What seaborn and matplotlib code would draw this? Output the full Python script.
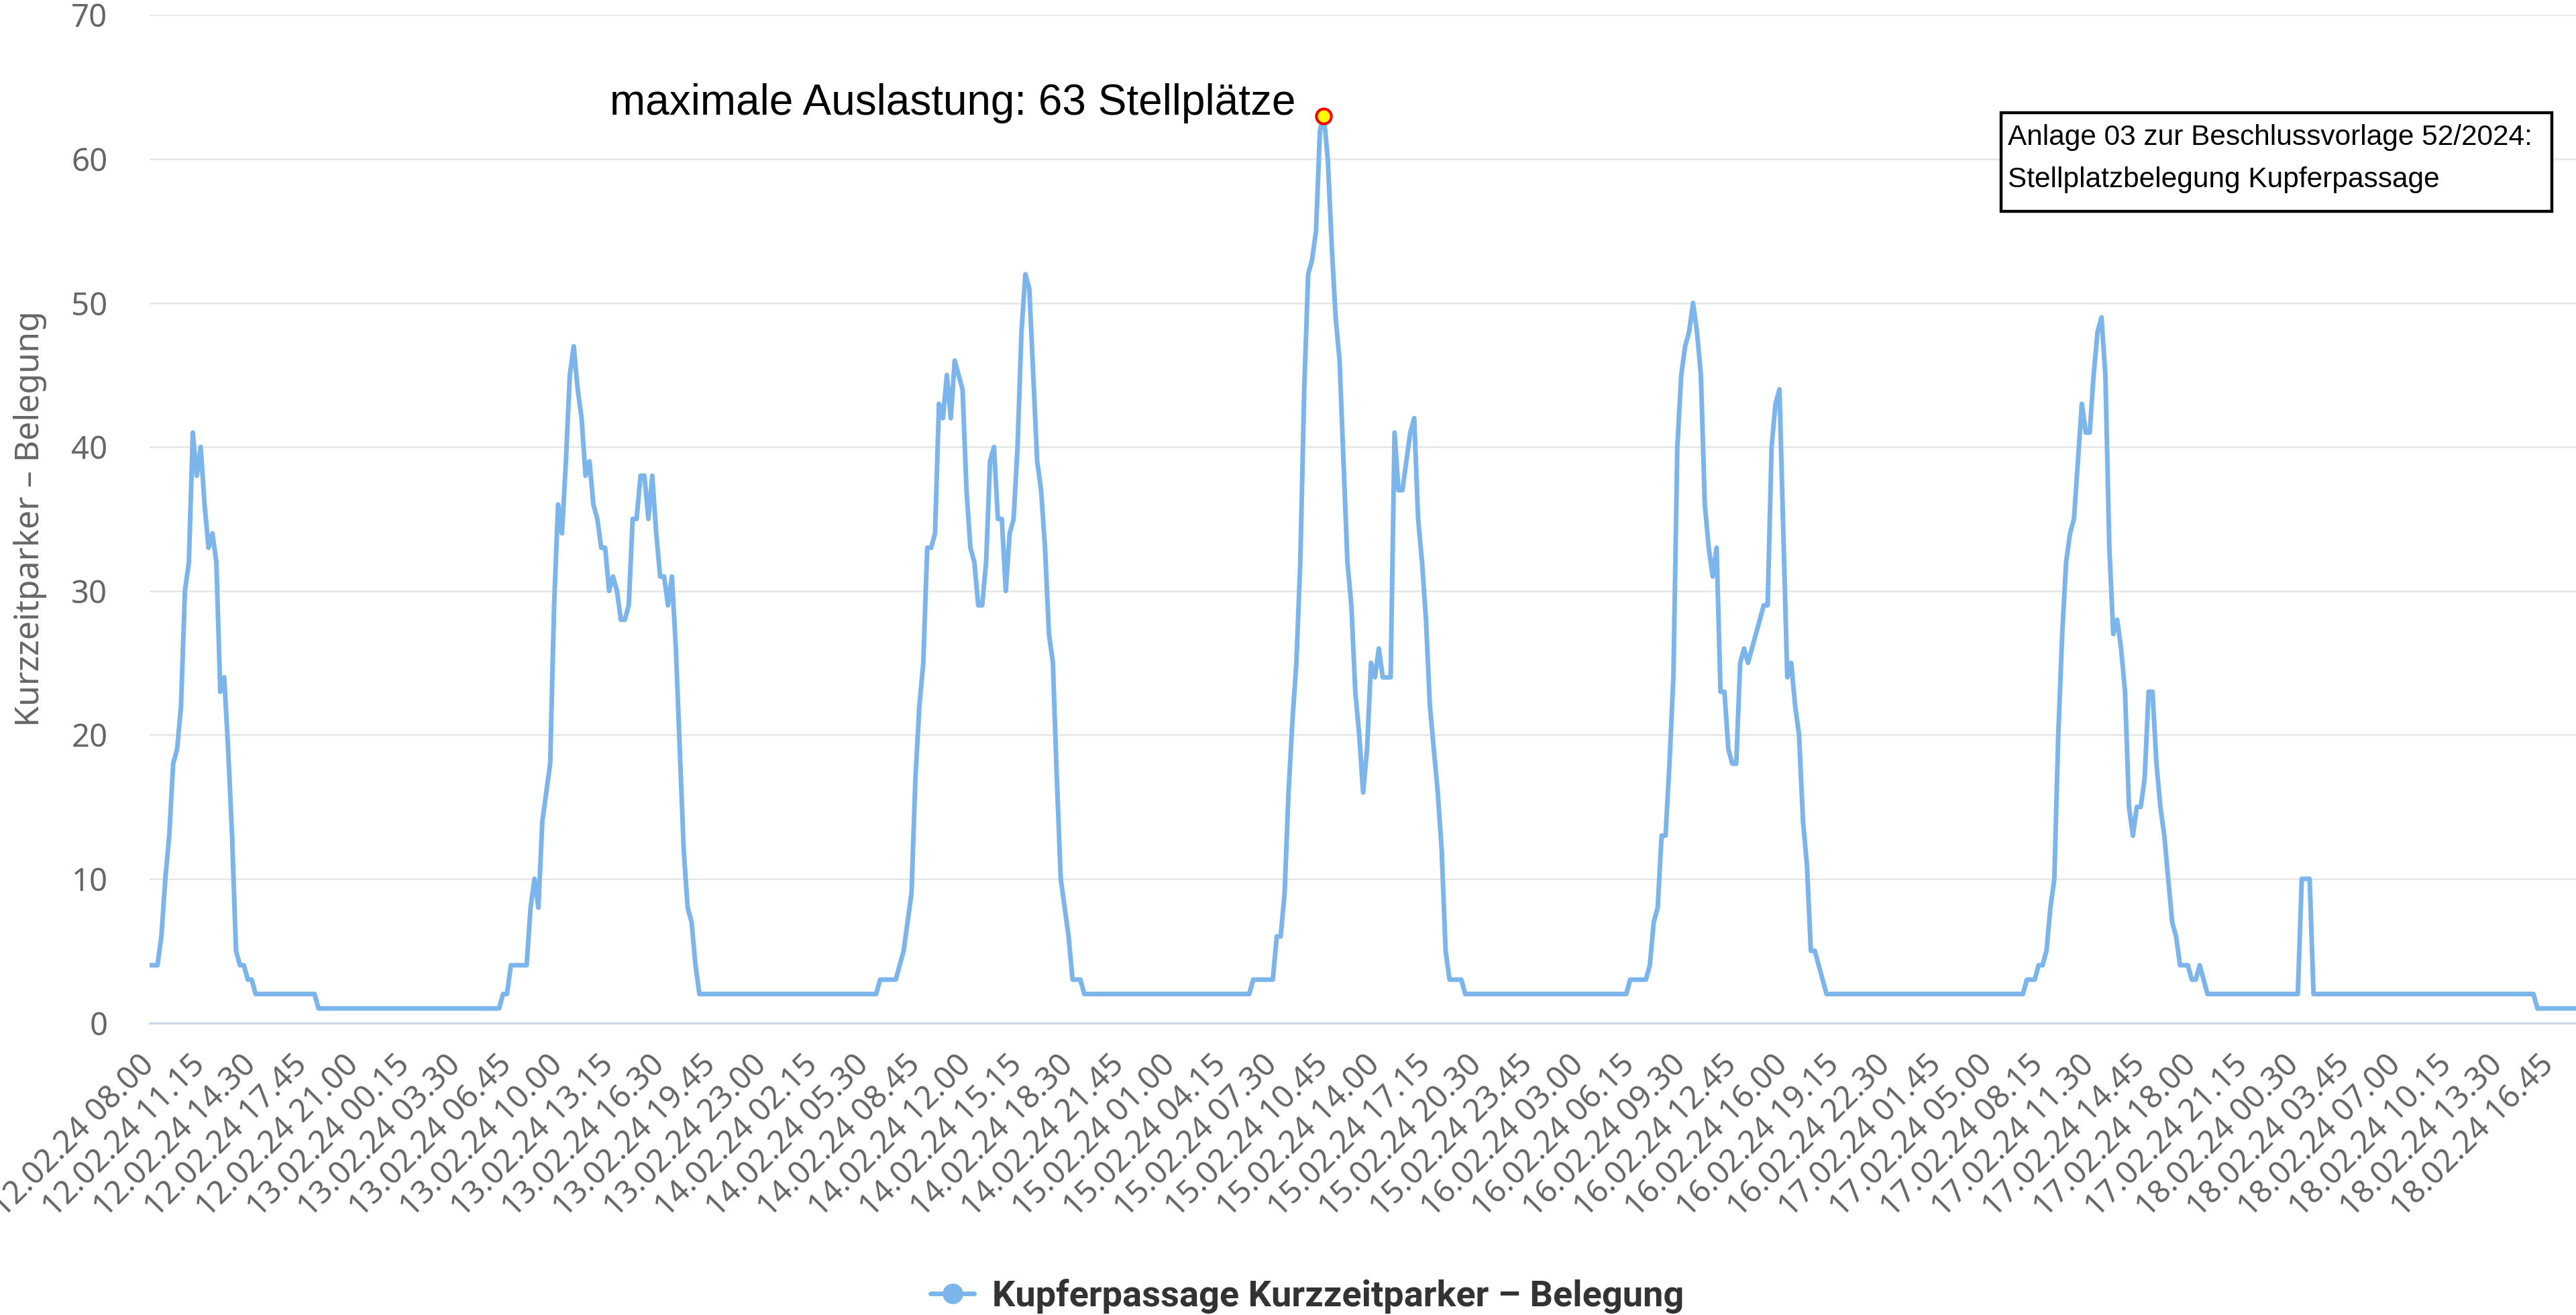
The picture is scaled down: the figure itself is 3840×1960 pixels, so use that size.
import numpy as np
import pandas as pd
import matplotlib
matplotlib.use("Agg")
import matplotlib.pyplot as plt
from matplotlib.lines import Line2D
from matplotlib.patches import Rectangle
import seaborn as sns

start = "2024-02-12 08:00"
belegung = [
    4, 4, 4, 6, 10, 13, 18, 19, 22, 30, 32, 41, 38, 40, 36, 33, 34, 32, 23, 24, 19, 13, 5, 4,
    4, 3, 3, 2, 2, 2, 2, 2, 2, 2, 2, 2, 2, 2, 2, 2, 2, 2, 2, 1, 1, 1, 1, 1,
    1, 1, 1, 1, 1, 1, 1, 1, 1, 1, 1, 1, 1, 1, 1, 1, 1, 1, 1, 1, 1, 1, 1, 1,
    1, 1, 1, 1, 1, 1, 1, 1, 1, 1, 1, 1, 1, 1, 1, 1, 1, 1, 2, 2, 4, 4, 4, 4,
    4, 8, 10, 8, 14, 16, 18, 29, 36, 34, 39, 45, 47, 44, 42, 38, 39, 36, 35, 33, 33, 30, 31, 30,
    28, 28, 29, 35, 35, 38, 38, 35, 38, 34, 31, 31, 29, 31, 26, 19, 12, 8, 7, 4, 2, 2, 2, 2,
    2, 2, 2, 2, 2, 2, 2, 2, 2, 2, 2, 2, 2, 2, 2, 2, 2, 2, 2, 2, 2, 2, 2, 2,
    2, 2, 2, 2, 2, 2, 2, 2, 2, 2, 2, 2, 2, 2, 2, 2, 2, 2, 3, 3, 3, 3, 3, 4,
    5, 7, 9, 17, 22, 25, 33, 33, 34, 43, 42, 45, 42, 46, 45, 44, 37, 33, 32, 29, 29, 32, 39, 40,
    35, 35, 30, 34, 35, 40, 48, 52, 51, 45, 39, 37, 33, 27, 25, 17, 10, 8, 6, 3, 3, 3, 2, 2,
    2, 2, 2, 2, 2, 2, 2, 2, 2, 2, 2, 2, 2, 2, 2, 2, 2, 2, 2, 2, 2, 2, 2, 2,
    2, 2, 2, 2, 2, 2, 2, 2, 2, 2, 2, 2, 2, 2, 2, 2, 2, 3, 3, 3, 3, 3, 3, 6,
    6, 9, 16, 21, 25, 32, 44, 52, 53, 55, 62, 63, 60, 54, 49, 46, 39, 32, 29, 23, 20, 16, 19, 25,
    24, 26, 24, 24, 24, 41, 37, 37, 39, 41, 42, 35, 32, 28, 22, 19, 16, 12, 5, 3, 3, 3, 3, 2,
    2, 2, 2, 2, 2, 2, 2, 2, 2, 2, 2, 2, 2, 2, 2, 2, 2, 2, 2, 2, 2, 2, 2, 2,
    2, 2, 2, 2, 2, 2, 2, 2, 2, 2, 2, 2, 2, 2, 2, 2, 2, 3, 3, 3, 3, 3, 4, 7,
    8, 13, 13, 18, 24, 40, 45, 47, 48, 50, 48, 45, 36, 33, 31, 33, 23, 23, 19, 18, 18, 25, 26, 25,
    26, 27, 28, 29, 29, 40, 43, 44, 34, 24, 25, 22, 20, 14, 11, 5, 5, 4, 3, 2, 2, 2, 2, 2,
    2, 2, 2, 2, 2, 2, 2, 2, 2, 2, 2, 2, 2, 2, 2, 2, 2, 2, 2, 2, 2, 2, 2, 2,
    2, 2, 2, 2, 2, 2, 2, 2, 2, 2, 2, 2, 2, 2, 2, 2, 2, 2, 2, 2, 2, 2, 3, 3,
    3, 4, 4, 5, 8, 10, 20, 27, 32, 34, 35, 39, 43, 41, 41, 45, 48, 49, 45, 33, 27, 28, 26, 23,
    15, 13, 15, 15, 17, 23, 23, 18, 15, 13, 10, 7, 6, 4, 4, 4, 3, 3, 4, 3, 2, 2, 2, 2,
    2, 2, 2, 2, 2, 2, 2, 2, 2, 2, 2, 2, 2, 2, 2, 2, 2, 2, 2, 2, 10, 10, 10, 2,
    2, 2, 2, 2, 2, 2, 2, 2, 2, 2, 2, 2, 2, 2, 2, 2, 2, 2, 2, 2, 2, 2, 2, 2,
    2, 2, 2, 2, 2, 2, 2, 2, 2, 2, 2, 2, 2, 2, 2, 2, 2, 2, 2, 2, 2, 2, 2, 2,
    2, 2, 2, 2, 2, 2, 2, 2, 1, 1, 1, 1, 1, 1, 1, 1, 1, 1, 1,
]
tick_step = 13  # Beschriftung alle 3 h 15 min
serie = "Kupferpassage Kurzzeitparker – Belegung"
y_titel = "Kurzzeitparker – Belegung"
max_text = "maximale Auslastung: 63 Stellplätze"
box_text = ["Anlage 03 zur Beschlussvorlage 52/2024:", "Stellplatzbelegung Kupferpassage"]

LINE = "#7cb5ec"
GRAY = "#666666"
AXIS = "#ccd6eb"

zeit = pd.date_range(start, periods=len(belegung), freq="15min")
df = pd.DataFrame({"zeit": zeit, "belegung": belegung})

sns.set_style("white")
plt.rcParams["font.family"] = ["Noto Sans", "DejaVu Sans"]

W, H = 3841, 1960
fig = plt.figure(figsize=(W / 100, H / 100), dpi=100)
ax = fig.add_axes([223 / W, 1 - 1524.5 / H, (W - 223) / W, (1524.5 - 22.5) / H])

sns.lineplot(data=df, x="zeit", y="belegung", ax=ax, color=LINE, linewidth=5, legend=False)
for ln in ax.lines:
    ln.set_solid_capstyle("round")
    ln.set_solid_joinstyle("round")

# Maximum markieren
i_max = int(np.argmax(belegung))
ax.plot(zeit[i_max], belegung[i_max], "o", ms=16, mfc="#ffff00", mec="#ff0000", mew=3, zorder=5)

ax.set_ylim(0, 70)
ax.set_yticks(range(0, 71, 10))
ax.set_xlim(zeit[0], zeit[-1])
ax.set_xticks(zeit[::tick_step])
ax.set_xticklabels([t.strftime("%d.%m.%y %H.%M") for t in zeit[::tick_step]],
                   rotation=45, ha="right", va="center", rotation_mode="anchor")

ax.grid(axis="y", color="#e6e6e6", linewidth=1.8)
ax.grid(axis="x", visible=False)
ax.set_axisbelow(True)
for s in ["top", "right", "left"]:
    ax.spines[s].set_visible(False)
ax.spines["bottom"].set_color(AXIS)
ax.spines["bottom"].set_linewidth(2.2)

ax.tick_params(axis="y", length=0, pad=45, labelsize=34, labelcolor=GRAY)
ax.tick_params(axis="x", length=26.5, width=2.2, color=AXIS, direction="out",
               pad=13.5, labelsize=34, labelcolor=GRAY)

ax.set_xlabel("")
ax.set_ylabel(y_titel, fontsize=36, color=GRAY)
ax.yaxis.set_label_coords(-(223 - 45) / (W - 223), 0.5)
ax.yaxis.label.set_verticalalignment("center")

# Beschriftung des Maximums
fig.text(909 / W, 1 - 171 / H, max_text, fontsize=46, family="Liberation Sans",
         color="black", va="baseline")

# Kasten oben rechts
fig.add_artist(Rectangle((2983 / W, 1 - 315 / H), (3804 - 2983) / W, (315 - 168) / H,
                         transform=fig.transFigure, facecolor="white", edgecolor="black",
                         linewidth=3.2, zorder=6))
fig.text(2993 / W, 1 - 216 / H, box_text[0], fontsize=30.5, family="Liberation Sans",
         color="black", va="baseline", zorder=7)
fig.text(2993 / W, 1 - 279 / H, box_text[1], fontsize=30.5, family="Liberation Sans",
         color="black", va="baseline", zorder=7)

handle = Line2D([], [], color=LINE, linewidth=5, marker="o", ms=21)
fig.legend([handle], [serie], loc="center", bbox_to_anchor=(1949 / W, 1 - 1932 / H),
           frameon=False, handlelength=1.2, handletextpad=0.5, borderpad=0, borderaxespad=0,
           prop={"family": ["Roboto", "DejaVu Sans"], "weight": "bold", "size": 39},
           labelcolor="#333333")

fig.savefig("out.png", dpi=100)
